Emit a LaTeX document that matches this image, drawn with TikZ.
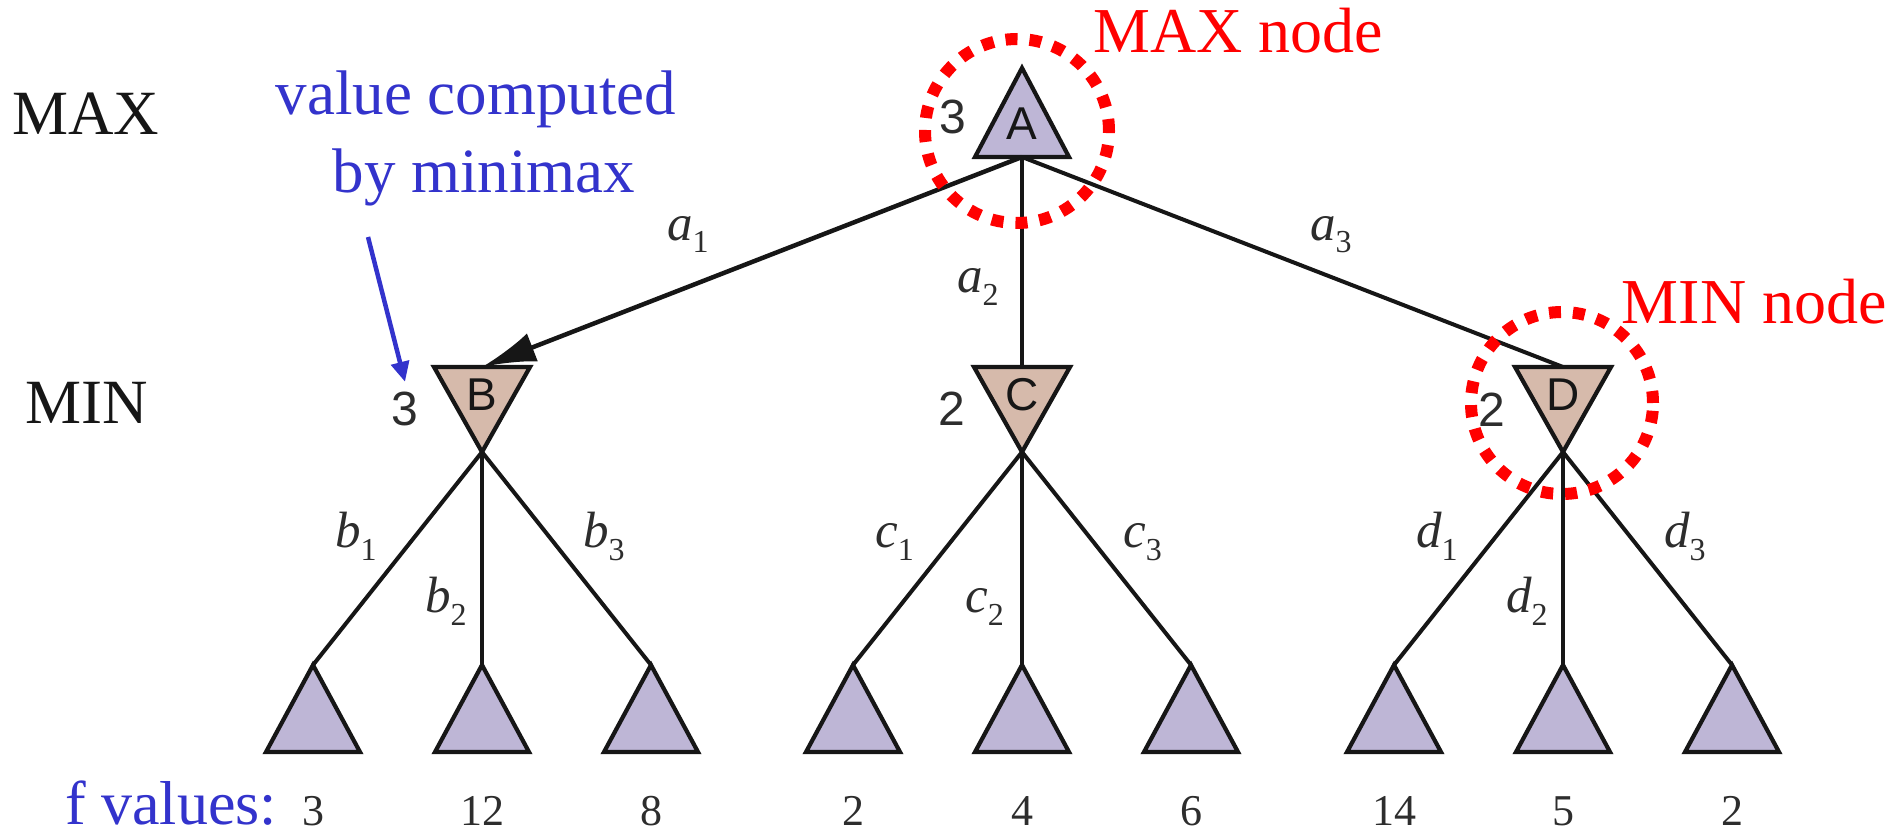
\documentclass[tikz,border=0pt]{standalone}
\usepackage{fontspec}
\setmainfont{Liberation Serif}
\newfontfamily\sansf{Liberation Sans}
\usetikzlibrary{arrows.meta}
\definecolor{maxfill}{RGB}{190,182,214}
\definecolor{minfill}{RGB}{214,186,171}
\definecolor{annblue}{RGB}{51,51,204}
\definecolor{ink}{RGB}{22,22,22}
\definecolor{softink}{RGB}{45,45,45}
\newcommand{\fsz}[1]{\fontsize{#1}{#1}\selectfont}
\newcommand{\elab}[2]{{\fsz{51}\itshape #1}\raisebox{-13pt}{\fsz{32}#2}}
\newcommand{\uptri}[4]{%
  \draw[tri, fill=maxfill] (#2,#3) -- ({#2+47},{#3+#4}) -- ({#2-47},{#3+#4}) -- cycle;
  \coordinate (#1-top) at (#2,#3);
  \coordinate (#1-bot) at (#2,{#3+#4});}
\newcommand{\dntri}[4]{%
  \draw[tri, fill=minfill] ({#2-48},#3) -- ({#2+48},#3) -- (#2,{#3+#4}) -- cycle;
  \coordinate (#1-top) at (#2,#3);
  \coordinate (#1-bot) at (#2,{#3+#4});}
\tikzset{
  tri/.style={draw=ink, line width=4.2pt, line join=miter},
  edge/.style={draw=ink, line width=4pt},
  trilab/.style={font=\sansf\fsz{46}, text=ink, inner sep=0pt},
  val/.style={font=\sansf\fsz{48}, text=softink, inner sep=0pt},
  leafval/.style={font=\fsz{44}, text=softink, inner sep=0pt, anchor=base},
  lvl/.style={font=\fsz{63}, text=ink, inner sep=0pt, anchor=base west},
  elabel/.style={text=softink, inner sep=0pt, anchor=base west},
  redtxt/.style={font=\fsz{64}, text=red, inner sep=0pt},
  bluetxt/.style={font=\fsz{63}, text=annblue, inner sep=0pt, anchor=base},
  ring/.style={circle, draw=red, line width=12pt, dash pattern=on 12pt off 12pt, inner sep=0pt, outer sep=0pt, minimum size=184pt},
  bluearr/.style={draw=annblue, line width=4.5pt, -{Triangle[length=20pt,width=18pt]}},
}
\begin{document}
\begin{tikzpicture}[x=1pt,y=-1pt]
\useasboundingbox (0,0) rectangle (1893,832);
% level labels
\node[lvl] (maxrow) at (12,135) {MAX};
\node[lvl] (minrow) at (25,423) {MIN};
% annotations
\node[bluetxt] (vc1) at (476,115) {value computed};
\node[bluetxt] (vc2) at (484,192) {by minimax};
\node[bluetxt, anchor=base west, font=\fsz{62}] (fv) at (65,824) {f values:};
\node[redtxt, anchor=base west] (maxlab) at (1093,53) {MAX node};
\node[redtxt, anchor=base east] (minlab) at (1887,323) {MIN node};
% triangles
\uptri{A}{1022}{68}{89}
\dntri{B}{482}{367}{85}
\dntri{C}{1022}{367}{85}
\dntri{D}{1563}{367}{85}
\uptri{L1}{313}{665}{87}
\uptri{L2}{482}{665}{87}
\uptri{L3}{651}{665}{87}
\uptri{L4}{853}{665}{87}
\uptri{L5}{1022}{665}{87}
\uptri{L6}{1191}{665}{87}
\uptri{L7}{1394}{665}{87}
\uptri{L8}{1563}{665}{87}
\uptri{L9}{1732}{665}{87}
\node[trilab] (Alab) at (1022,124) {A};
\node[trilab] (Blab) at (482,395) {B};
\node[trilab] (Clab) at (1022,395) {C};
\node[trilab] (Dlab) at (1563,395) {D};
% minimax values
\node[val] (vA) at (953,117) {3};
\node[val, inner sep=10pt] (vB) at (405,409) {3};
\node[val] (vC) at (952,409) {2};
\node[val] (vD) at (1492,410) {2};
% edges
\draw[edge, line width=4.5pt, -{Latex[length=54pt,width=30pt]}] (A-bot) -- (B-top);
\draw[edge] (A-bot) -- (C-top);
\draw[edge] (A-bot) -- (D-top);
\draw[edge] (B-bot) -- (L1-top);
\draw[edge] (B-bot) -- (L2-top);
\draw[edge] (B-bot) -- (L3-top);
\draw[edge] (C-bot) -- (L4-top);
\draw[edge] (C-bot) -- (L5-top);
\draw[edge] (C-bot) -- (L6-top);
\draw[edge] (D-bot) -- (L7-top);
\draw[edge] (D-bot) -- (L8-top);
\draw[edge] (D-bot) -- (L9-top);
% edge labels
\node[elabel] (la1) at (667,240) {\elab{a}{1}};
\node[elabel] (la2) at (957,292) {\elab{a}{2}};
\node[elabel] (la3) at (1310,240) {\elab{a}{3}};
\node[elabel] (lb1) at (335,547) {\elab{b}{1}};
\node[elabel] (lb2) at (425,612) {\elab{b}{2}};
\node[elabel] (lb3) at (583,547) {\elab{b}{3}};
\node[elabel] (lc1) at (875,547) {\elab{c}{1}};
\node[elabel] (lc2) at (965,612) {\elab{c}{2}};
\node[elabel] (lc3) at (1123,547) {\elab{c}{3}};
\node[elabel] (ld1) at (1416,547) {\elab{d}{1}};
\node[elabel] (ld2) at (1506,612) {\elab{d}{2}};
\node[elabel] (ld3) at (1664,547) {\elab{d}{3}};
% leaf values
\node[leafval] (f1) at (313,825) {3};
\node[leafval] (f2) at (482,825) {12};
\node[leafval] (f3) at (651,825) {8};
\node[leafval] (f4) at (853,825) {2};
\node[leafval] (f5) at (1022,825) {4};
\node[leafval] (f6) at (1191,825) {6};
\node[leafval] (f7) at (1394,825) {14};
\node[leafval] (f8) at (1563,825) {5};
\node[leafval] (f9) at (1732,825) {2};
% blue pointer
\coordinate (arrstart) at (368,237);
\draw[bluearr] (arrstart) -- (vB.north);
% red dotted rings
\node[ring] (ringA) at (1017,131) {};
\node[ring, minimum size=182pt] (ringD) at (1562,403) {};
\end{tikzpicture}
\end{document}
